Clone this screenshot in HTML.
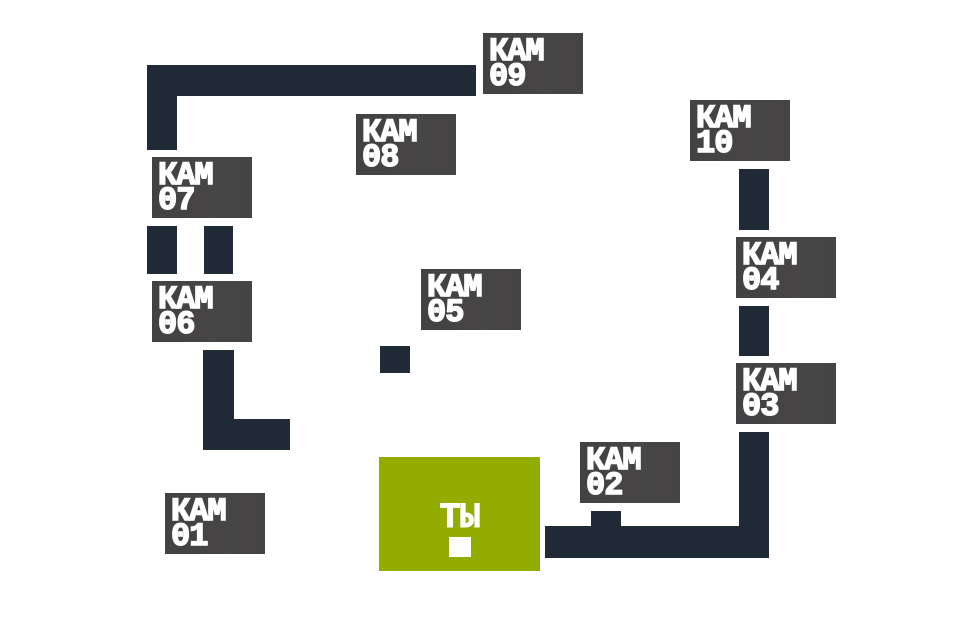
<!DOCTYPE html>
<html lang="ru">
<head>
<meta charset="utf-8">
<style>
html,body{margin:0;padding:0;background:#fff}
#s{position:relative;width:974px;height:634px;overflow:hidden;background:#fff}
.w{position:absolute;background:#212b38}
.c{position:absolute;width:100px;height:61px;background:linear-gradient(90deg,#424143,#474546 60%,#454444);
color:#fff;font:700 32px/25px "Liberation Mono","DejaVu Sans Mono",monospace;letter-spacing:-1px;-webkit-text-stroke:1.5px #fff;overflow:hidden}
.c span{position:absolute;left:6px;top:6px;white-space:pre}
#y{position:absolute;left:379px;top:457px;width:161px;height:114px;background:#92ad00}
#t{position:absolute;left:0;width:161px;top:46px;text-align:center;color:#fff;font:700 35px/30px "Liberation Mono","DejaVu Sans Mono",monospace;letter-spacing:-1px;-webkit-text-stroke:1px #fff}
#m{position:absolute;left:70px;top:80px;width:22px;height:20px;background:#fff}
</style>
</head>
<body>
<div id="s">
<div class="w" style="left:147px;top:65px;width:329px;height:31px"></div>
<div class="w" style="left:147px;top:65px;width:30px;height:85px"></div>
<div class="w" style="left:147px;top:226px;width:30px;height:48px"></div>
<div class="w" style="left:204px;top:226px;width:29px;height:48px"></div>
<div class="w" style="left:203px;top:350px;width:31px;height:100px"></div>
<div class="w" style="left:203px;top:419px;width:87px;height:31px"></div>
<div class="w" style="left:380px;top:346px;width:30px;height:27px"></div>
<div class="w" style="left:739px;top:169px;width:30px;height:61px"></div>
<div class="w" style="left:739px;top:306px;width:30px;height:50px"></div>
<div class="w" style="left:739px;top:432px;width:30px;height:126px"></div>
<div class="w" style="left:545px;top:526px;width:224px;height:32px"></div>
<div class="w" style="left:591px;top:511px;width:30px;height:16px"></div>

<div class="c" style="left:483px;top:33px"><span>КАМ
09</span></div>
<div class="c" style="left:356px;top:114px"><span>КАМ
08</span></div>
<div class="c" style="left:690px;top:100px"><span>КАМ
10</span></div>
<div class="c" style="left:152px;top:157px"><span>КАМ
07</span></div>
<div class="c" style="left:736px;top:237px"><span>КАМ
04</span></div>
<div class="c" style="left:152px;top:281px"><span>КАМ
06</span></div>
<div class="c" style="left:421px;top:269px"><span>КАМ
05</span></div>
<div class="c" style="left:736px;top:363px"><span>КАМ
03</span></div>
<div class="c" style="left:580px;top:442px"><span>КАМ
02</span></div>
<div class="c" style="left:165px;top:493px"><span>КАМ
01</span></div>

<div id="y"><div id="t">ТЫ</div><div id="m"></div></div>
</div>
</body>
</html>
